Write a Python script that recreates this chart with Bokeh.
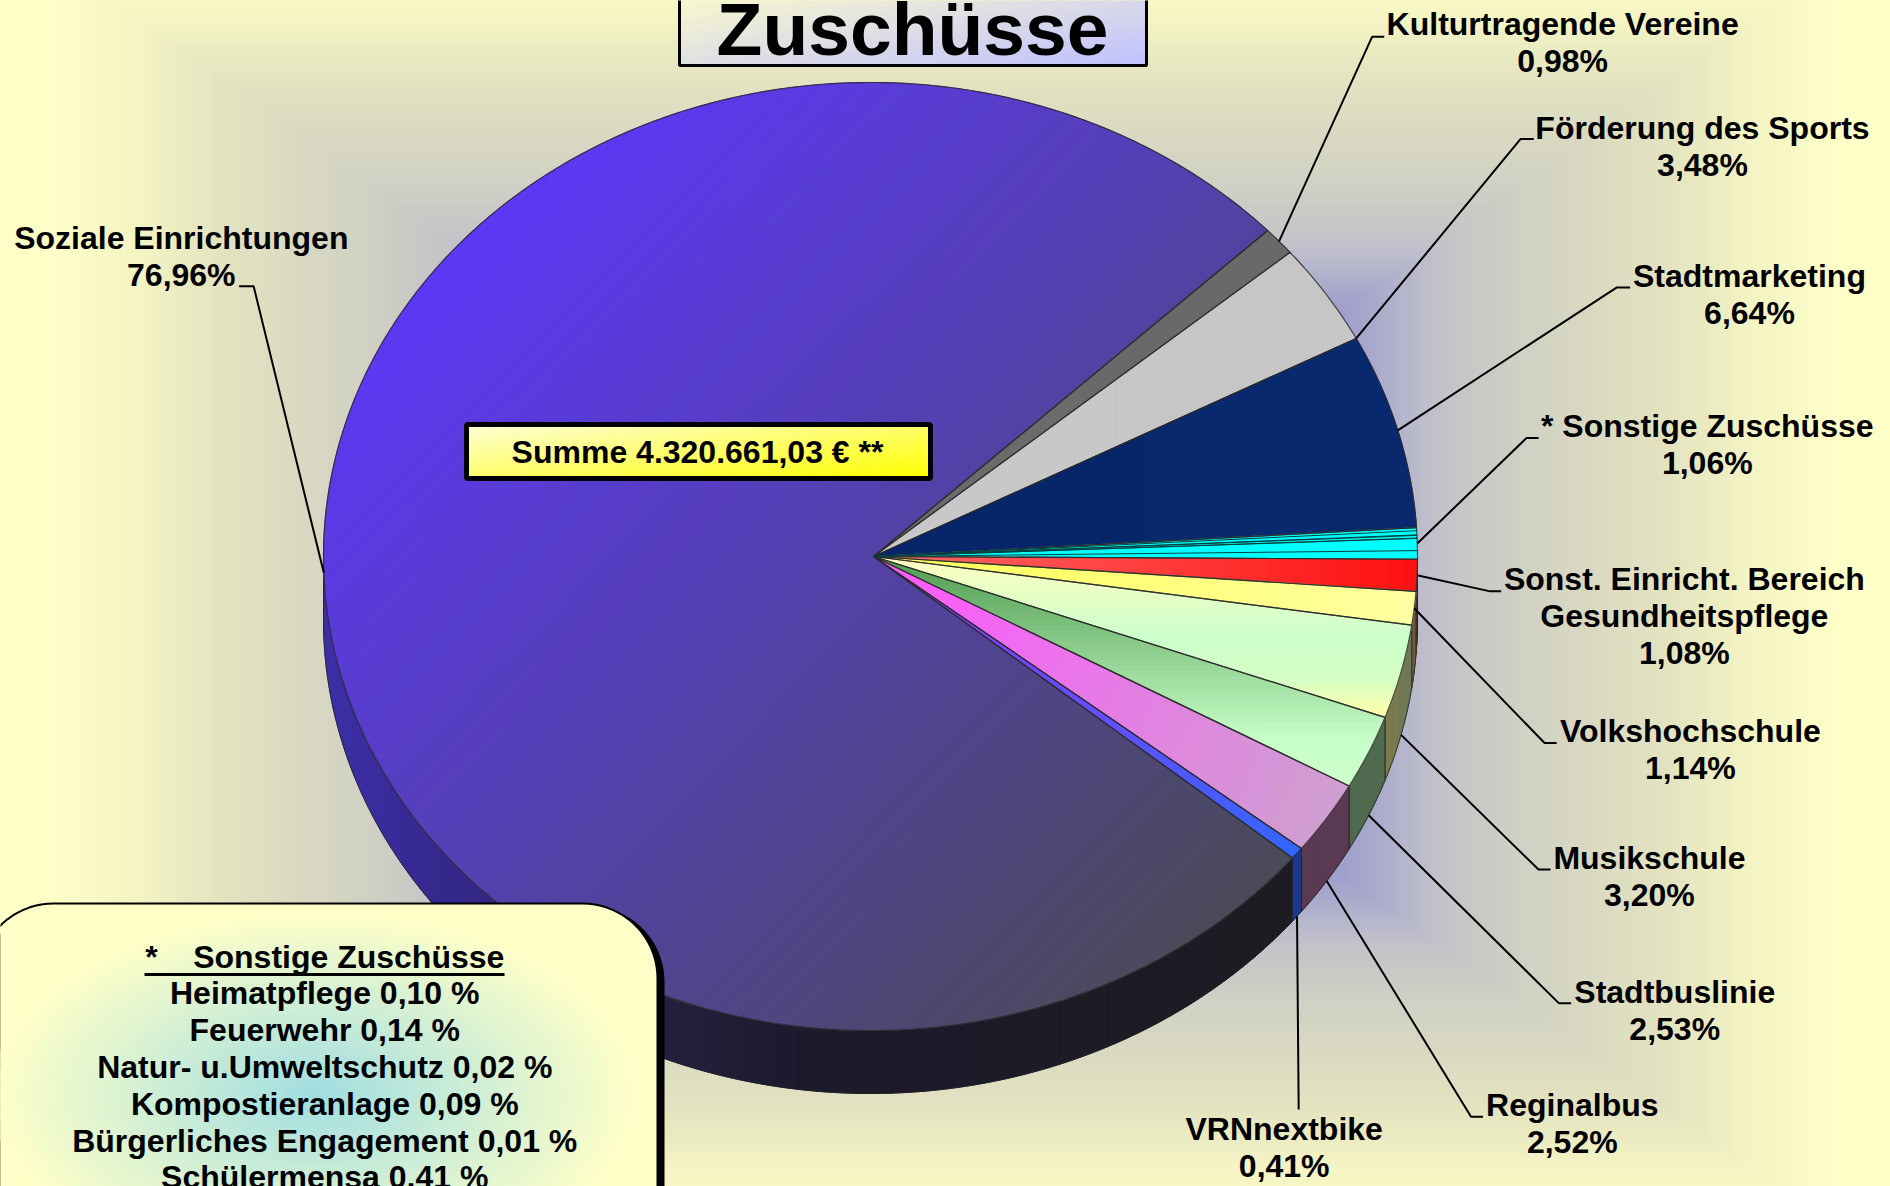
from bokeh.plotting import figure
from bokeh.models import Range1d
from bokeh.core.properties import value
from bokeh.embed import file_html
from bokeh.resources import INLINE
import numpy as np

# ---------- data ----------
categories = ["Soziale Einrichtungen", "Kulturtragende Vereine", "Förderung des Sports", "Stadtmarketing",
              "* Sonstige Zuschüsse", "Sonst. Einricht. Bereich Gesundheitspflege", "Volkshochschule",
              "Musikschule", "Stadtbuslinie", "Reginalbus", "VRNnextbike"]
shares = [76.96, 0.98, 3.48, 6.64, 1.06, 1.08, 1.14, 3.20, 2.53, 2.52, 0.41]
share_labels = ["76,96%", "0,98%", "3,48%", "6,64%", "1,06%", "1,08%", "1,14%", "3,20%", "2,53%", "2,52%", "0,41%"]
sonstige_titles = ["Heimatpflege", "Feuerwehr", "Natur- u.Umweltschutz", "Kompostieranlage",
                   "Bürgerliches Engagement", "Schülermensa"]
sonstige_values = [0.10, 0.14, 0.02, 0.09, 0.01, 0.41]
sonstige_labels = ["0,10 %", "0,14 %", "0,02 %", "0,09 %", "0,01 %", "0,41 %"]
title = "Zuschüsse"
summe = "Summe 4.320.661,03 € **"
panel_title = "*\u00a0\u00a0\u00a0\u00a0Sonstige Zuschüsse"

# ---------- style / layout ----------
S = 1890 / 1568
W, H = 1890, 1186
CX, CY, RX, RY, DEPTH = 870, 556, 547, 474, 63
APX, APY = 873, 556
START = -39.5
TOP = [  # colour stops, gradient direction, bands
    ([(0, "#5c38f6"), (1, "#4a4a58")], (1, 1), 200),
    ([(0, "#6c6c6c"), (1, "#686868")], (1, 0), 2),
    ([(0, "#c8c8c8"), (1, "#c6c6c6")], (1, 0), 2),
    ([(0, "#062567"), (1, "#082a70")], (1, 0), 2),
    ([(0, "#00ffff"), (1, "#00ffff")], (1, 0), 1),
    ([(0, "#ff6a6a"), (1, "#ff1010")], (1, 0), 40),
    ([(0, "#ffff55"), (1, "#ffffa2")], (1, 0), 30),
    ([(0, "#ffffc0"), (.5, "#ccffcc"), (.75, "#d4ffc6"), (1, "#ffffa8")], (0, 1), 40),
    ([(0, "#4f9a50"), (.8, "#c8ffc8"), (1, "#ccffcc")], (0, 1), 40),
    ([(0, "#ff55ff"), (1, "#cf9fcf")], (1, 0.5), 40),
    ([(0, "#9933ff"), (1, "#3366ff")], (1, 0.5), 24)]
WALL = [[(0, "#3d2ea8"), (.18, "#322680"), (.35, "#24203e"), (.5, "#1c1a2c"), (1, "#1c1c22")],
        [(0, "#333333"), (1, "#333333")], [(0, "#666666"), (1, "#666666")], [(0, "#031338"), (1, "#031338")],
        [(0, "#008080"), (1, "#008080")], [(0, "#801010"), (1, "#801010")], [(0, "#6f5a40"), (1, "#6f5a40")],
        [(0, "#7f7c4c"), (1, "#6c7658")], [(0, "#4f6a4e"), (1, "#4f6a4e")],
        [(0, "#5a3a52"), (1, "#5a3a52")], [(0, "#1c3a8c"), (1, "#1c3a8c")]]
LAYOUT = [  # elbow, line end, label centre x, first line y, on wall?, fraction along slice
    ((210, 237), (198, 237), 150, 197.3, False, .5), ((1138, 30), (1148, 30), 1296, 19.3, False, .5),
    ((1261, 115), (1272, 115), 1412, 105.7, False, 1.), ((1341, 238), (1352, 238), 1451, 228.3, False, .5),
    ((1266, 363), (1276, 363), 1416, 353, False, .5), ((1235, 490), (1245, 490), 1397, 480, False, .5),
    ((1281, 616), (1291, 616), 1402, 606, False, .5), ((1276, 721), (1286, 721), 1368, 711.3, True, .5),
    ((1293, 832), (1303, 832), 1389, 822.5, True, .5), ((1220, 926), (1230, 926), 1304, 916.5, True, .5),
    ((1077, 920), (1077, 920), 1065, 936.5, True, .5)]
LABEL_LINES = {5: ["Sonst. Einricht. Bereich", "Gesundheitspflege"]}
FONT, LABEL_PX, PANEL_PX = "Liberation Sans", 32, 32

def hex2(c):
    c = c.lstrip("#")
    return np.array([int(c[i:i + 2], 16) for i in (0, 2, 4)], float)

def at(stops, f):
    fs = [s[0] for s in stops]
    rgb = [hex2(s[1]) for s in stops]
    return "#%02x%02x%02x" % tuple(int(round(np.interp(f, fs, [c[k] for c in rgb]))) for k in range(3))

def clip(poly, d, lo, hi):
    """Keep the part of a polygon whose projection on d lies in [lo, hi]."""
    def half(pts, sign, lim):
        out = []
        for i in range(len(pts)):
            a, b = pts[i], pts[(i + 1) % len(pts)]
            pa = sign * (a[0] * d[0] + a[1] * d[1]) - lim
            pb = sign * (b[0] * d[0] + b[1] * d[1]) - lim
            if pa <= 0:
                out.append(a)
            if pa * pb < 0:
                f = pa / (pa - pb)
                out.append((a[0] + (b[0] - a[0]) * f, a[1] + (b[1] - a[1]) * f))
        return out
    pts = half(poly, 1, hi)
    return half(pts, -1, -lo) if pts else pts

XS, YS, CS = [], [], []
def gradient(poly, stops, d, n):
    pr = [q[0] * d[0] + q[1] * d[1] for q in poly]
    lo, hi = min(pr), max(pr)
    step = (hi - lo) / n
    for i in range(n):
        part = clip(poly, d, lo + i * step, lo + (i + 1) * step)
        if len(part) >= 3:
            XS.append([q[0] for q in part])
            YS.append([q[1] for q in part])
            CS.append(at(stops, (i + .5) / n))

def flush(p):
    global XS, YS, CS
    p.patches(XS, YS, fill_color=CS, line_color=CS, line_width=1)
    XS, YS, CS = [], [], []

def rim(t, dy=0):
    r = np.radians(t)
    return CX + RX * np.cos(r), CY - RY * np.sin(r) + dy

def arc(a, b, dy=0):
    n = max(2, int(abs(a - b) * 2) + 1)
    return [rim(t, dy) for t in np.linspace(a, b, n)]

def rounded(x0, y0, x1, y1, r):
    pts = []
    for cx, cy, s in ((x1 - r, y0 + r, -90), (x1 - r, y1 - r, 0), (x0 + r, y1 - r, 90), (x0 + r, y0 + r, 180)):
        for a in np.radians(np.linspace(s, s + 90, 20)):
            pts.append((cx + r * np.cos(a), cy + r * np.sin(a)))
    return pts

p = figure(width=W, height=H, x_range=Range1d(0, W), y_range=Range1d(H, 0),
           output_backend="svg", toolbar_location=None, min_border=0, outline_line_color=None,
           background_fill_color="#ffffc8", border_fill_color="#ffffc8")
p.axis.visible = False
p.grid.visible = False

def txt(x, y, s, px, align="center"):
    p.text([x], [y], text=[s], text_font=value(FONT), text_font_style="bold", text_font_size=value(f"{px}px"),
           text_align=align, text_baseline="middle", text_color="#000000")

# background: rectangular gradient around the page centre
BG = [(0, "#ffffc8"), (.1, "#f4f4c4"), (.19, "#e4e4c0"), (.36, "#d0d0c4"), (.44, "#c4c4c8"),
      (.47, "#bcbccc"), (.53, "#a6a6cc"), (.7, "#8080d8")]
BAX, BAY = 900, 640
GN = 200
v = np.linspace(1.06, 0.3, GN)
p.quad(left=list(W / 2 - BAX * v), right=list(W / 2 + BAX * v), top=list(H / 2 - BAY * v), bottom=list(H / 2 + BAY * v),
       fill_color=[at(BG, 1 - q) for q in v], line_color=None)

# wall
angles = START - 3.6 * np.concatenate([[0], np.cumsum(shares)])
for i in range(len(shares)):
    hi, lo = angles[i], angles[i + 1]
    for shift in (0, 360, 720):
        h, l = min(hi + shift, 0), max(lo + shift, -180)
        if h > l:
            poly = arc(h, l) + arc(l, h, DEPTH)
            gradient(poly, WALL[i], (1, 0), 100 if i == 0 else 4)
            flush(p)
            p.patches([[q[0] for q in poly]], [[q[1] for q in poly]], fill_color=None, line_color="#202020", line_width=1, line_alpha=.8)

# top faces
outlines = []
for i in range(len(shares)):
    poly = [(APX, APY)] + arc(angles[i], angles[i + 1])
    stops, d, n = TOP[i]
    gradient(poly, stops, d, n)
    outlines.append(poly)
flush(p)
p.patches([[q[0] for q in o] for o in outlines], [[q[1] for q in o] for o in outlines],
          fill_color=None, line_color="#2a2a2a", line_width=1.2, line_alpha=0.85)
# sub-slices of "Sonstige Zuschüsse"
ss = angles[4] - 3.6 * np.cumsum(sonstige_values)
p.segment([APX] * len(ss), [APY] * len(ss), [rim(t)[0] for t in ss], [rim(t)[1] for t in ss],
          line_color="#064040", line_width=1)

# leaders + labels
for i, (elbow, end, lx, ly, wall, frac) in enumerate(LAYOUT):
    a = rim(angles[i] + (angles[i + 1] - angles[i]) * frac, DEPTH if wall else 0)
    p.line([a[0], elbow[0] * S, end[0] * S], [a[1], elbow[1] * S, end[1] * S], line_color="#000000", line_width=2)
    lines = LABEL_LINES.get(i, [categories[i]]) + [share_labels[i]]
    for k, s in enumerate(lines):
        txt(lx * S, (ly + 30.8 * k) * S, s, LABEL_PX)

# title
tb = (679, -20, 1146, 65)
rect = [(tb[0], tb[1]), (tb[2], tb[1]), (tb[2], tb[3]), (tb[0], tb[3])]
gradient(rect, [(0, "#ffffc8"), (1, "#c0c0ff")], (85, 467), 40)
flush(p)
p.patches([[q[0] for q in rect]], [[q[1] for q in rect]], fill_color=None, line_color="#000000", line_width=3)
txt(912, 28.5, title, 75)

# total
sb = (466, 424, 930, 478)
rect = [(sb[0], sb[1]), (sb[2], sb[1]), (sb[2], sb[3]), (sb[0], sb[3])]
gradient(rect, [(0, "#ffffd8"), (1, "#ffff00")], (54, 464), 40)
flush(p)
p.patches([[q[0] for q in rect]], [[q[1] for q in rect]], fill_color=None, line_color="#000000", line_width=5)
txt(697, 451, summe, 32)

# panel
shadow = rounded(-22 + 5, 903 + 3, 664, 1300, 75)
p.patches([[q[0] for q in shadow]], [[q[1] for q in shadow]], fill_color="#000000", line_color=None)
panel = rounded(-22, 903, 657, 1300, 75)
p.patches([[q[0] for q in panel]], [[q[1] for q in panel]], fill_color="#ffffc8", line_color="#000000", line_width=2)
PN = 50
g = np.linspace(1, 0, PN)
p.ellipse([315] * PN, [1095] * PN, width=list(2 * 325 * g), height=list(2 * 185 * g),
          fill_color=[at([(0, "#ffffc8"), (1, "#9fdde2")], 1 - q) for q in g], line_color=None)
px = 269 * S
txt(px, 956, panel_title, PANEL_PX)
p.segment([144], [974], [504], [974], line_color="#000000", line_width=3)
for k, (a, b) in enumerate(zip(sonstige_titles, sonstige_labels)):
    txt(px, 956 + 36.8 * (k + 1), f"{a} {b}", PANEL_PX)

open("out.html", "w").write(file_html(p, INLINE))
